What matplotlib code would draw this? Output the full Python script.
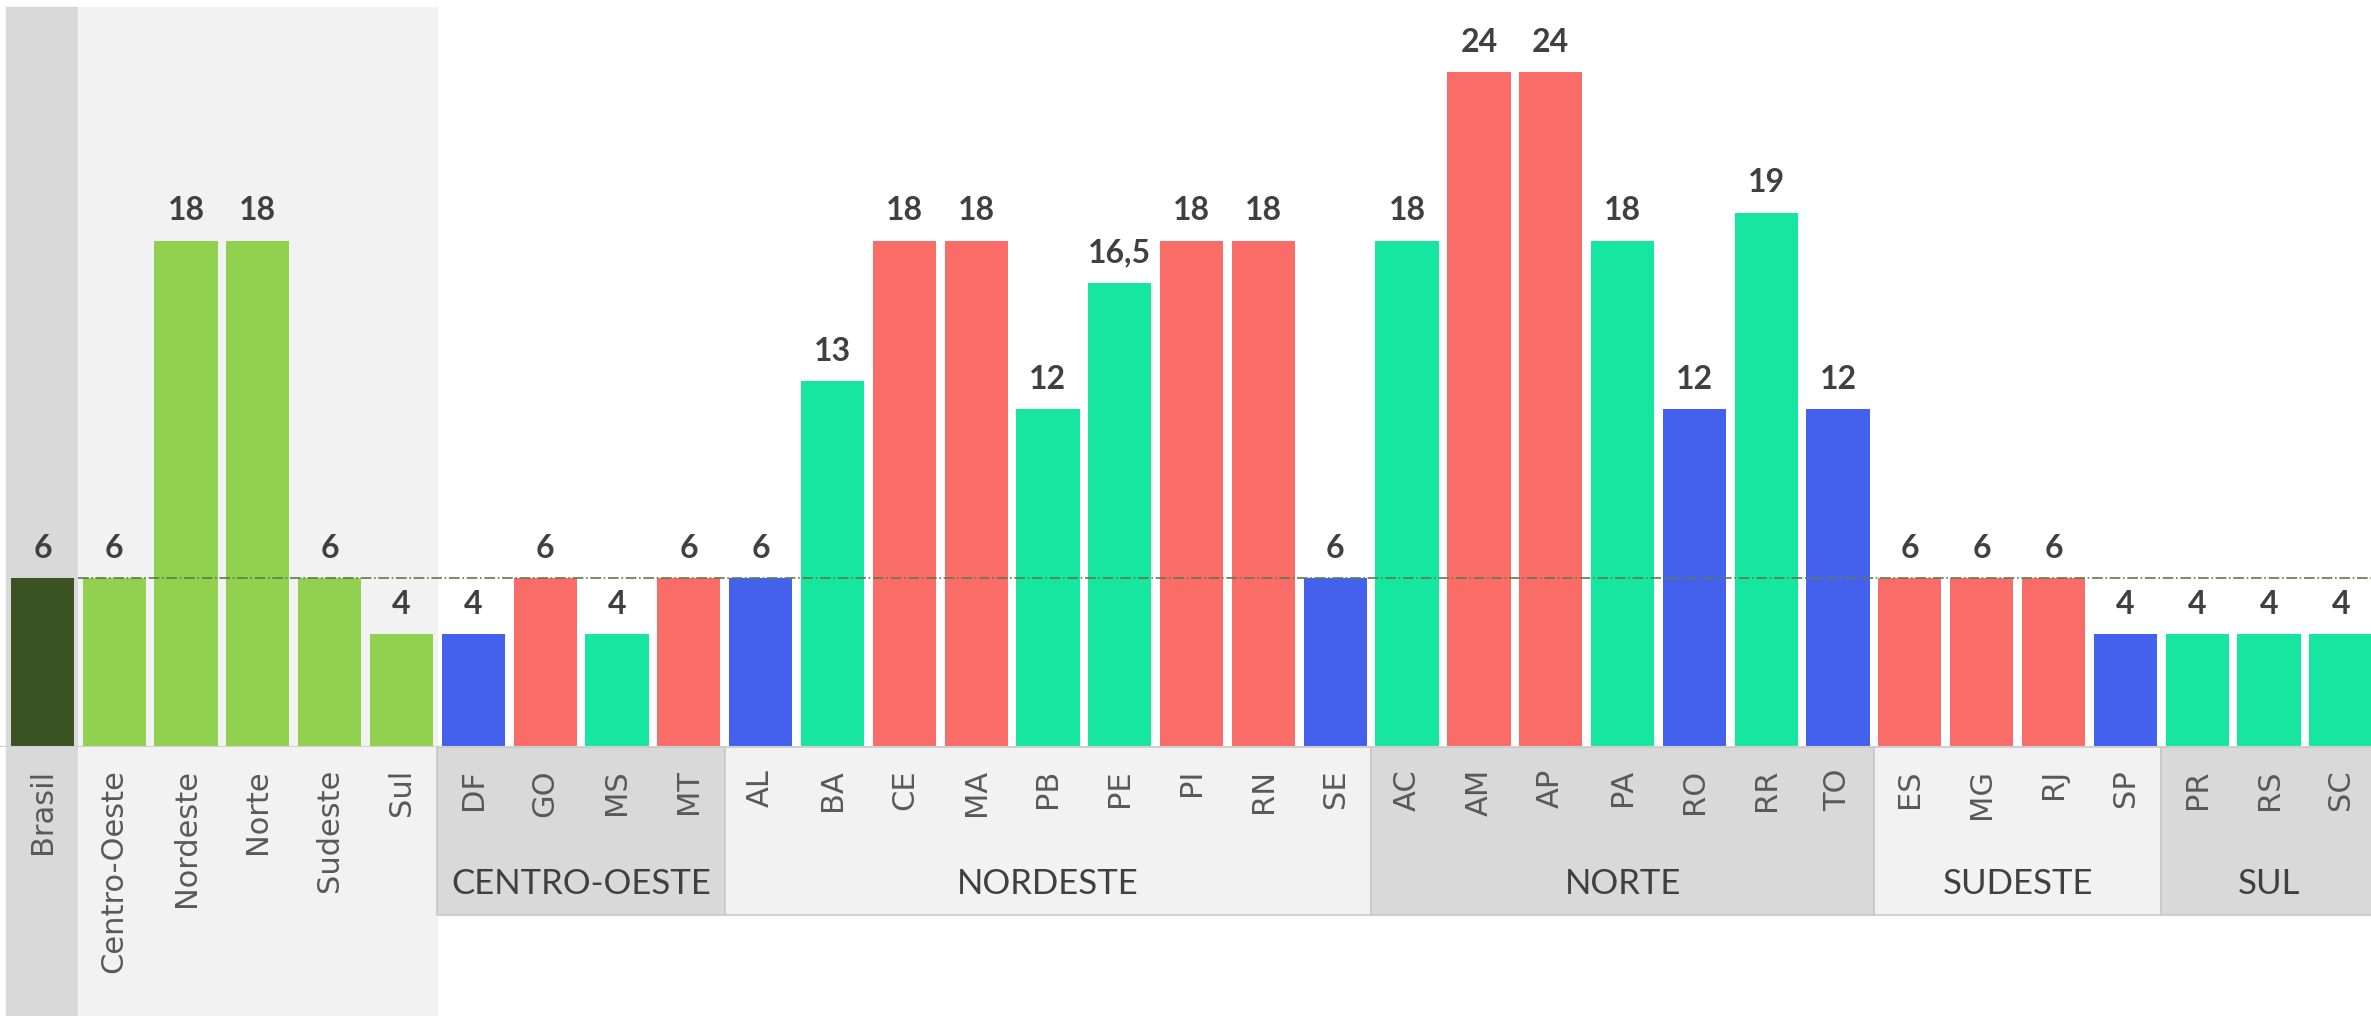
import numpy as np
import matplotlib
matplotlib.use("Agg")
import matplotlib.pyplot as plt
import matplotlib.transforms as mtransforms

labels = ["Brasil", "Centro-Oeste", "Nordeste", "Norte", "Sudeste", "Sul",
          "DF", "GO", "MS", "MT",
          "AL", "BA", "CE", "MA", "PB", "PE", "PI", "RN", "SE",
          "AC", "AM", "AP", "PA", "RO", "RR", "TO",
          "ES", "MG", "RJ", "SP",
          "PR", "RS", "SC"]
values = [6, 6, 18, 18, 6, 4,
          4, 6, 4, 6,
          6, 13, 18, 18, 12, 16.5, 18, 18, 6,
          18, 24, 24, 18, 12, 19, 12,
          6, 6, 6, 4,
          4, 4, 4]
# b = brasil, r = region, B = blue, R = red, T = teal
kinds = ["b", "r", "r", "r", "r", "r",
         "B", "R", "T", "R",
         "B", "T", "R", "R", "T", "T", "R", "R", "B",
         "T", "R", "R", "T", "B", "T", "B",
         "R", "R", "R", "B",
         "T", "T", "T"]
groups = ["CENTRO-OESTE", "NORDESTE", "NORTE", "SUDESTE", "SUL"]
group_sizes = [4, 9, 7, 4, 3]

colors = {"b": "#3b5323", "r": "#92d050", "B": "#4361ec",
          "R": "#f96c67", "T": "#17e6a0"}

fig = plt.figure(figsize=(23.71, 10.16), dpi=100)
ax = fig.add_axes([0, 0.265, 1, 0.735])
x = np.arange(len(labels))
ax.set_xlim(-0.59, 32.42)
ax.set_ylim(0, 26.56)

trans = mtransforms.blended_transform_factory(ax.transData, ax.transAxes)

# background bands for Brasil and regions
ax.axvspan(-0.5, 0.5, ymin=0, ymax=26.3 / 26.56, color="#d9d9d9", zorder=0)
ax.axvspan(0.5, 5.5, ymin=0, ymax=26.3 / 26.56, color="#f2f2f2", zorder=0)
ax.add_patch(plt.Rectangle((-0.5, -0.36), 1, 0.36, transform=trans,
                           color="#d9d9d9", clip_on=False, zorder=0))
ax.add_patch(plt.Rectangle((0.5, -0.36), 5, 0.36, transform=trans,
                           color="#f2f2f2", clip_on=False, zorder=0))

# group bands under the axis
start = 5.5
for i, (g, n) in enumerate(zip(groups, group_sizes)):
    c = "#d9d9d9" if i % 2 == 0 else "#f2f2f2"
    ax.add_patch(plt.Rectangle((start, -0.2247), n, 0.2247, transform=trans,
                               facecolor=c, edgecolor="#c8c8c8", lw=1.2,
                               clip_on=False, zorder=0))
    ax.text(start + n / 2, -0.184, g, transform=trans, ha="center", va="center",
            fontsize=25, color="#404040", family="Lato")
    start += n

bars = ax.bar(x, values, width=0.88, color=[colors[k] for k in kinds], zorder=2)

ax.plot([0.5, 32.42], [6, 6], color="#5f7a4a", lw=1.2, ls="-.", zorder=3)
ax.axhline(0, color="#d0d0d0", lw=1.5, zorder=3)

for xi, v in zip(x, values):
    txt = f"{v:g}".replace(".", ",")
    ax.annotate(txt, (xi, v), xytext=(0, 11), textcoords="offset points",
                ha="center", va="bottom", fontsize=23, fontweight="bold",
                color="#404040", family="Lato")

ax.set_xticks(x)
ax.set_xticklabels(labels, rotation=90, fontsize=22, color="#595959",
                   family="DejaVu Sans")
ax.tick_params(axis="x", length=0, pad=16)
ax.set_yticks([])
for s in ax.spines.values():
    s.set_visible(False)
ax.patch.set_alpha(0)

fig.savefig("out.png", dpi=100)
